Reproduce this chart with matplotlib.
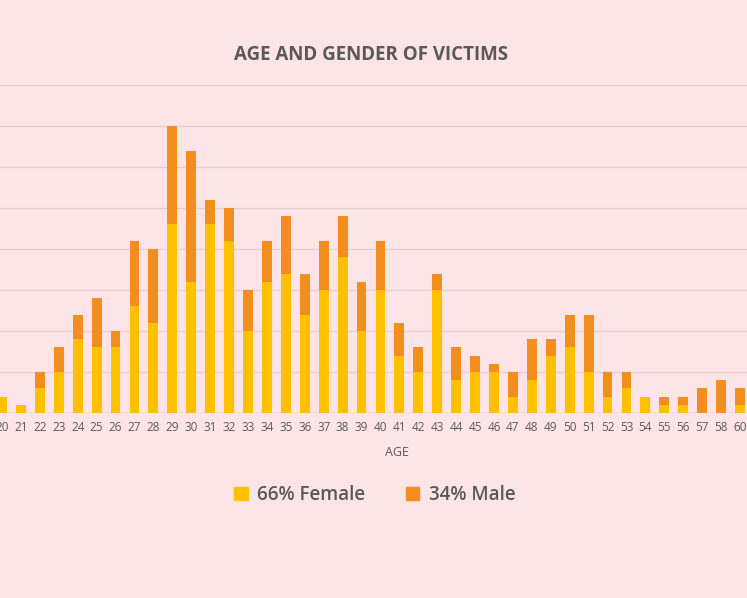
import matplotlib
matplotlib.use("Agg")
import matplotlib.pyplot as plt
import numpy as np

ages = [str(a) for a in range(20, 59)] + ["60"]
total = [2,1,5,8,12,14,10,21,20,35,32,26,25,15,21,24,17,21,24,16,21,
         11,8,17,8,7,6,5,9,9,12,12,5,5,2,2,2,3,4,3]
female = [2,1,3,5,9,8,8,13,11,23,16,23,21,10,16,17,12,15,19,10,15,
          7,5,15,4,5,5,2,4,7,8,5,2,3,2,1,1,0,0,1]
male = [t - f for t, f in zip(total, female)]

bg = "#fde4e6"
fig = plt.figure(figsize=(7.47, 5.98), dpi=100, facecolor=bg)
ax = fig.add_axes([0, 0.3094, 1, 0.5485], facecolor=bg)
x = np.arange(len(ages))
ax.bar(x, female, width=0.52, color="#ffc000", zorder=3)
ax.bar(x, male, bottom=female, width=0.52, color="#f28e1e", zorder=3)
ax.set_xlim(-0.106, 39.37)
ax.set_ylim(0, 40)
ax.set_yticks(range(0, 41, 5))
ax.yaxis.grid(True, color="#e9cfd2", lw=1)
ax.tick_params(axis="y", left=False, labelleft=False)
ax.set_xticks(x)
ax.set_xticklabels(ages, fontsize=8.5, color="#595959", family="Open Sans")
ax.tick_params(axis="x", length=0, pad=6)
for s in ax.spines.values():
    s.set_visible(False)
ax.axhline(0, color="#e0c8ca", lw=1, zorder=2)

fig.text(0.497, 0.908, "AGE AND GENDER OF VICTIMS", ha="center", va="center",
         fontsize=13.5, fontweight="bold", color="#595959", family="Open Sans")
fig.text(0.532, 0.244, "AGE", ha="center", va="center", fontsize=9,
         color="#595959", family="Open Sans")
from matplotlib.patches import Patch
handles = [Patch(color="#ffc000", label="66% Female"), Patch(color="#f28e1e", label="34% Male")]
fig.legend(handles=handles, loc="center", bbox_to_anchor=(0.502, 0.172), ncol=2,
           frameon=False, prop={"family": "Open Sans", "size": 13.5, "weight": "semibold"},
           handlelength=0.7, handleheight=0.7, columnspacing=2.2, handletextpad=0.5,
           labelcolor="#595959")
fig.savefig("out.png", dpi=100, facecolor=bg)
